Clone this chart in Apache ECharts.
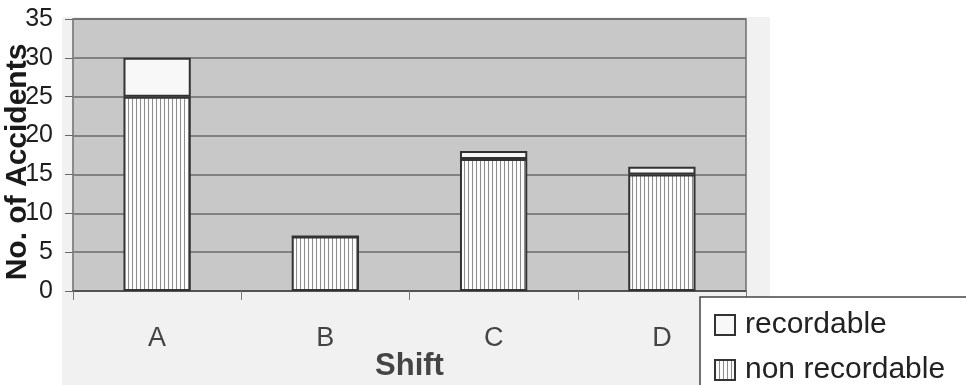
<!DOCTYPE html>
<html>
<head>
<meta charset="utf-8">
<script src="https://cdn.jsdelivr.net/npm/echarts@6/dist/echarts.min.js"></script>
<style>
  html, body { margin: 0; padding: 0; background: #ffffff; }
  #chart { width: 966px; height: 385px; }
</style>
</head>
<body>
<div id="chart"></div>
<script>
// Accidents per shift, split by recordability
const shifts = ['A', 'B', 'C', 'D'];
const nonRecordable = [25, 7, 17, 15];
const recordable = [5, 0, 1, 1];
const yTicks = { min: 0, max: 35, step: 5 };

// Vertical hatch fill for the non-recordable segments
function makeStripes() {
  const c = document.createElement('canvas');
  c.width = 4;
  c.height = 4;
  const ctx = c.getContext('2d');
  ctx.fillStyle = '#fbfbfb';
  ctx.fillRect(0, 0, 4, 4);
  ctx.fillStyle = '#8c8c8c';
  ctx.fillRect(0, 0, 1, 4);
  return c;
}
const stripes = { image: makeStripes(), repeat: 'repeat' };

const chart = echarts.init(document.getElementById('chart'), null, { renderer: 'canvas' });

const font = '"Liberation Sans", Arial, sans-serif';
const legendText = { fontFamily: font, fontSize: 30, color: '#222222', padding: [0, 0, 0, 5] };

function legendEntry(name, top) {
  return {
    left: 709,
    top: top,
    z: 60,
    itemWidth: 20,
    itemHeight: 20,
    icon: 'rect',
    selectedMode: false,
    data: [name],
    textStyle: legendText
  };
}

chart.setOption({
  animation: false,
  backgroundColor: '#ffffff',
  graphic: [
    {
      type: 'rect', z: -10, silent: true,
      shape: { x: 62, y: 17, width: 708, height: 368 },
      style: { fill: '#f1f1f1' }
    },
    {
      type: 'rect', z: 50, silent: true,
      shape: { x: 700, y: 297, width: 280, height: 100 },
      style: { fill: '#ffffff', stroke: '#444444', lineWidth: 1.5 }
    }
  ],
  grid: {
    left: 73, right: 220, top: 19, bottom: 94,
    outerBoundsMode: 'none',
    containLabel: false,
    show: true,
    backgroundColor: '#c8c8c8',
    borderColor: '#6f6f6f',
    borderWidth: 1.5
  },
  legend: [
    legendEntry('recordable', 305),
    legendEntry('non recordable', 350)
  ],
  xAxis: {
    type: 'category',
    data: shifts,
    name: 'Shift',
    nameLocation: 'middle',
    nameGap: 60,
    nameMoveOverlap: false,
    nameTextStyle: { fontFamily: font, fontSize: 31, fontWeight: 'bold', color: '#444444' },
    axisLine: { lineStyle: { color: '#4a4a4a', width: 1.5 } },
    axisTick: { show: true, length: 9, alignWithLabel: false, lineStyle: { color: '#777777' } },
    axisLabel: { fontFamily: font, fontSize: 27, color: '#444444', margin: 34 }
  },
  yAxis: {
    type: 'value',
    min: yTicks.min,
    max: yTicks.max,
    interval: yTicks.step,
    name: 'No. of Accidents',
    nameLocation: 'middle',
    nameGap: 40,
    nameMoveOverlap: false,
    nameTextStyle: {
      fontFamily: font, fontSize: 30, fontWeight: 'bold', color: '#1a1a1a',
      padding: [0, 14, 0, 0]
    },
    axisLine: { show: true, lineStyle: { color: '#8a8a8a', width: 1.5 } },
    axisTick: { show: true, length: 8, lineStyle: { color: '#666666' } },
    axisLabel: { fontFamily: font, fontSize: 25, color: '#1e1e1e', margin: 20 },
    splitLine: { lineStyle: { color: '#6a6a6a', width: 1.5 } }
  },
  series: [
    {
      name: 'non recordable',
      type: 'bar',
      stack: 'total',
      barWidth: '40%',
      data: nonRecordable,
      itemStyle: { color: stripes, borderColor: '#333333', borderWidth: 2 }
    },
    {
      name: 'recordable',
      type: 'bar',
      stack: 'total',
      barWidth: '40%',
      data: recordable,
      itemStyle: { color: '#f8f8f8', borderColor: '#333333', borderWidth: 2 }
    }
  ]
});
</script>
</body>
</html>
